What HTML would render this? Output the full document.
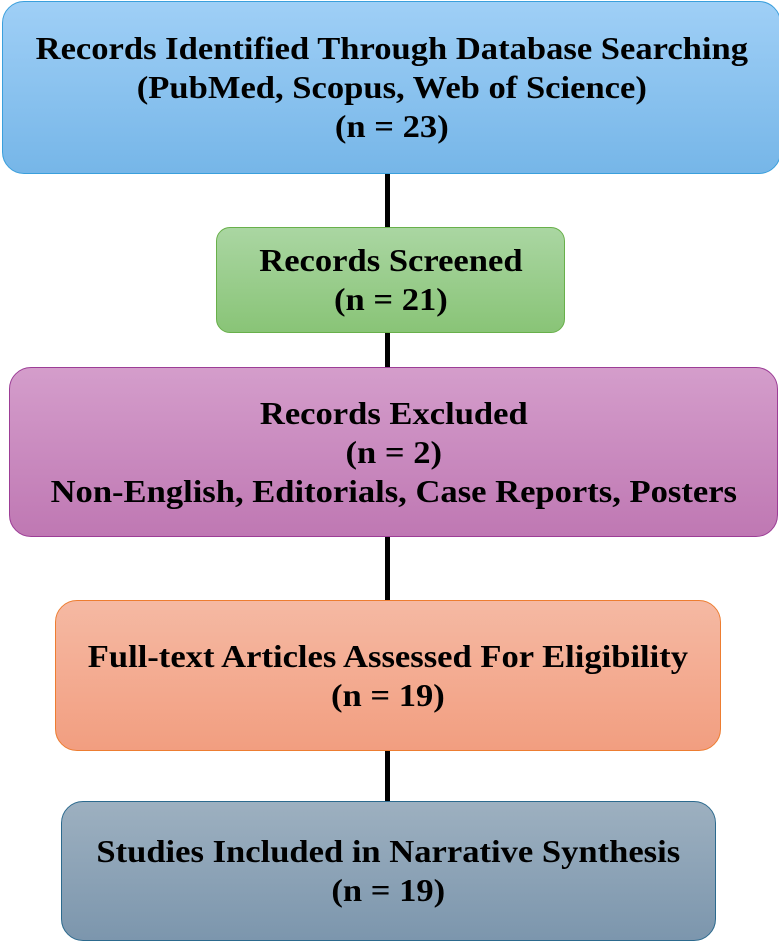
<!DOCTYPE html>
<html><head><style>
body{margin:0;width:779px;height:942px;background:#fff;position:relative;overflow:hidden;font-family:"Liberation Serif",serif;font-weight:bold;}
.b{position:absolute;box-sizing:border-box;border-radius:22px;border:1.5px solid;display:flex;flex-direction:column;justify-content:center;align-items:center;text-align:center;font-size:32px;line-height:39px;color:#000;}
.b span{display:inline-block;transform:scaleX(1.08);white-space:nowrap;}
.l{position:absolute;left:385px;width:5px;background:#000;}
</style></head><body>
<div class="l" style="top:172px;height:56px"></div>
<div class="l" style="top:331px;height:38px"></div>
<div class="l" style="top:535px;height:66px"></div>
<div class="l" style="top:749px;height:53px"></div>
<div class="b" style="left:2px;top:1px;width:779px;height:173px;background:linear-gradient(#9fcff6,#76b6e8);border-color:#3a9fdc"><span>Records Identified Through Database Searching<br>(PubMed, Scopus, Web of Science)<br>(n = 23)</span></div>
<div class="b" style="left:216px;top:227px;width:349px;height:106px;border-radius:14px;background:linear-gradient(#aad6a2,#89c477);border-color:#68b04a"><span>Records Screened<br>(n = 21)</span></div>
<div class="b" style="left:9px;top:367px;width:769px;height:170px;background:linear-gradient(#d49dcb,#bf78b3);border-color:#9c3d96"><span>Records Excluded<br>(n = 2)<br>Non-English, Editorials, Case Reports, Posters</span></div>
<div class="b" style="left:55px;top:600px;width:666px;height:151px;background:linear-gradient(#f5b9a3,#f29e80);border-color:#ed7d31"><span>Full-text Articles Assessed For Eligibility<br>(n = 19)</span></div>
<div class="b" style="left:61px;top:801px;width:655px;height:140px;background:linear-gradient(#9db0c0,#7c96ad);border-color:#2c6a8e"><span>Studies Included in Narrative Synthesis<br>(n = 19)</span></div>
</body></html>
